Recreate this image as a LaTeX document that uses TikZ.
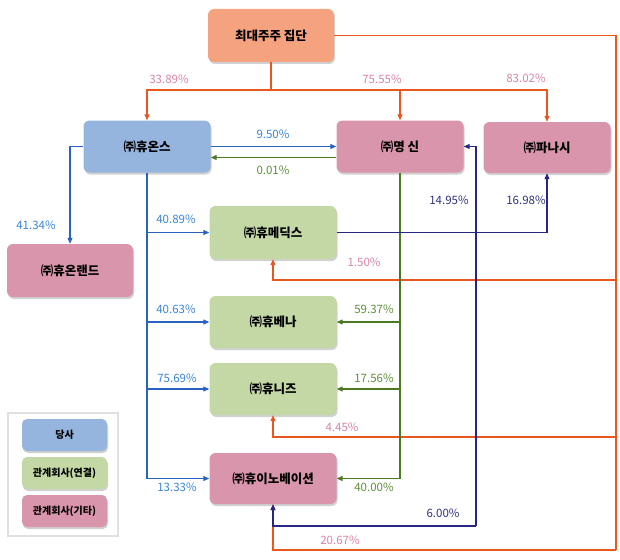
\documentclass[tikz,border=0pt]{standalone}
\usepackage{fontspec}
\setmainfont{Noto Sans CJK KR}
\usepackage{xcolor}
\usetikzlibrary{positioning,arrows.meta,shadows}

\definecolor{salmonbox}{HTML}{F5A27E}
\definecolor{bluebox}{HTML}{95B4DE}
\definecolor{greenbox}{HTML}{C4D8A6}
\definecolor{pinkbox}{HTML}{D995AB}
\definecolor{orangeline}{HTML}{E9561E}
\definecolor{blueline}{HTML}{2A62C0}
\definecolor{navyline}{HTML}{272683}
\definecolor{greenline}{HTML}{4C7A22}
\definecolor{pinktext}{HTML}{D884A6}
\definecolor{bluetext}{HTML}{3A84D6}
\definecolor{greentext}{HTML}{5E8E3A}
\definecolor{navytext}{HTML}{303082}

\begin{document}
\begin{tikzpicture}[x=1pt, y=-1pt, >={Triangle[length=6pt, width=5pt]},
    firm/.style={fill=#1, rounded corners=6pt, minimum width=127pt, minimum height=52pt,
        inner sep=0pt, font=\fontsize{12.5}{14}\selectfont\bfseries,
        drop shadow={shadow xshift=1pt, shadow yshift=-2pt, opacity=0.3, fill=black!60}},
    keybox/.style={fill=#1, rounded corners=5pt, minimum width=85pt, minimum height=32pt,
        inner sep=0pt, font=\fontsize{10}{12}\selectfont\bfseries,
        drop shadow={shadow xshift=1pt, shadow yshift=-2pt, opacity=0.3, fill=black!60}},
    pct/.style={text=#1, inner sep=0pt, font=\fontsize{11.5}{12}\selectfont},
    oline/.style={draw=orangeline, line width=1.1pt},
    bline/.style={draw=blueline, line width=1.1pt},
    nline/.style={draw=navyline, line width=1.1pt},
    gline/.style={draw=greenline, line width=1.1pt}]

    \useasboundingbox (0,0) rectangle (620,559);

    % companies
    \node[firm=salmonbox, minimum width=126pt, minimum height=53pt] (top) at (271, 35.5) {최대주주 집단};
    \node[firm=bluebox] (huons) at (147, 146.5) {㈜휴온스};
    \node[firm=pinkbox] (myungshin) at (400, 146.5) {㈜명 신};
    \node[firm=pinkbox, minimum height=51pt] (panasi) at (547, 147.5) {㈜파나시};
    \node[firm=pinkbox, minimum width=126pt, minimum height=53pt] (huonland) at (70, 270.5) {㈜휴온랜드};
    \node[firm=greenbox, minimum height=53pt] (humedix) at (273, 232.5) {㈜휴메딕스};
    \node[firm=greenbox] (huvena) at (273, 322) {㈜휴베나};
    \node[firm=greenbox] (hunize) at (273, 389) {㈜휴니즈};
    \node[firm=pinkbox, minimum height=51pt] (huinno) at (273, 478.5) {㈜휴이노베이션};

    % legend
    \node[draw=black!12, line width=2pt, fill=white, minimum width=110pt, minimum height=123pt] (legend) at (63, 474.5) {};
    \node[keybox=bluebox] (keyus) at (64.5, 435) {당사};
    \node[keybox=greenbox] (keycons) at (64.5, 473) {관계회사(연결)};
    \node[keybox=pinkbox] (keyother) at (64.5, 511) {관계회사(기타)};

    % largest shareholder
    \coordinate (obus) at (271, 90);
    \coordinate (oend) at (616, 550);
    \coordinate (om) at (616, 280);
    \coordinate (on) at (616, 437);
    \draw[oline] (top.south) -- (obus);
    \draw[oline, ->] (obus) -| (huons.north);
    \draw[oline, ->] (obus) -| (myungshin.north);
    \draw[oline, ->] (obus) -| (panasi.north);
    \draw[oline] (top.east) -| (oend);
    \draw[oline, ->] (om) -| (humedix.south);
    \draw[oline, ->] (on) -| (hunize.south);
    \draw[oline, ->] (oend) -| (huinno.south);

    % huons
    \draw[bline, ->] (huons.west) -| (huonland.north);
    \draw[bline, ->] (huons.east) -- (myungshin.west);
    \draw[bline, ->] (huons.south) |- (humedix.west);
    \draw[bline, ->] (huons.south) |- (huvena.west);
    \draw[bline, ->] (huons.south) |- (hunize.west);
    \draw[bline, ->] (huons.south) |- (huinno.west);

    % myungshin
    \draw[gline, ->] ([yshift=-11pt]myungshin.west) -- ([yshift=-11pt]huons.east);
    \draw[gline, ->] (myungshin.south) |- (huvena.east);
    \draw[gline, ->] (myungshin.south) |- (hunize.east);
    \draw[gline, ->] (myungshin.south) |- (huinno.east);

    % humedix
    \coordinate (nj) at (476, 232.5);
    \coordinate (nbot) at (476, 526);
    \draw[nline, ->] (humedix.east) -| (panasi.south);
    \draw[nline, ->] (nj) |- (myungshin.east);
    \draw[nline] (nj) -- (nbot);
    \draw[nline, ->] (nbot) -| (huinno.south);

    % shares
    \node[pct=pinktext] (p1) at (169, 79) {33.89\%};
    \node[pct=pinktext] (p2) at (382, 79) {75.55\%};
    \node[pct=pinktext] (p3) at (526, 78) {83.02\%};
    \node[pct=bluetext] (p4) at (273, 134) {9.50\%};
    \node[pct=greentext] (p5) at (273, 170) {0.01\%};
    \node[pct=navytext] (p6) at (449, 200) {14.95\%};
    \node[pct=navytext] (p7) at (526, 200) {16.98\%};
    \node[pct=bluetext] (p8) at (36, 225) {41.34\%};
    \node[pct=bluetext] (p9) at (176, 219) {40.89\%};
    \node[pct=pinktext] (p10) at (364, 262) {1.50\%};
    \node[pct=bluetext] (p11) at (176, 309) {40.63\%};
    \node[pct=greentext] (p12) at (374, 309) {59.37\%};
    \node[pct=bluetext] (p13) at (177, 378) {75.69\%};
    \node[pct=greentext] (p14) at (374, 378) {17.56\%};
    \node[pct=pinktext] (p15) at (342, 427) {4.45\%};
    \node[pct=bluetext] (p16) at (177, 487) {13.33\%};
    \node[pct=greentext] (p17) at (374, 487) {40.00\%};
    \node[pct=navytext] (p18) at (443, 513) {6.00\%};
    \node[pct=pinktext] (p19) at (340, 540) {20.67\%};
\end{tikzpicture}
\end{document}
